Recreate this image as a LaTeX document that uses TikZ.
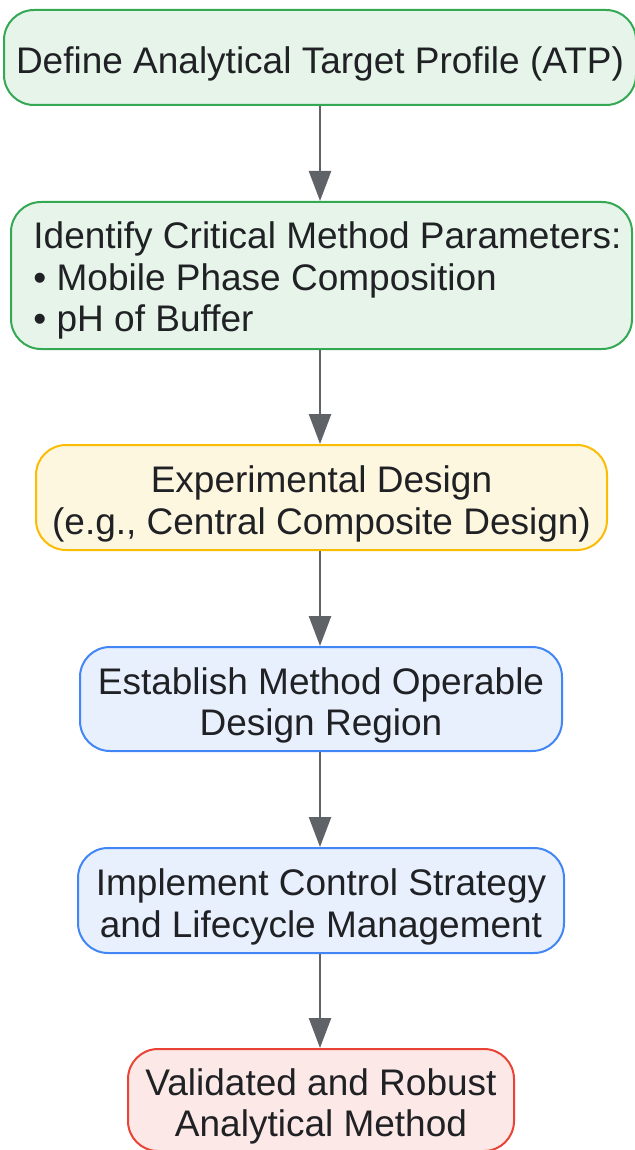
\documentclass[tikz,border=0pt]{standalone}
\usepackage{fontspec}
\setmainfont{Liberation Sans}
\usetikzlibrary{arrows.meta}
\definecolor{txtgray}{HTML}{202124}
\definecolor{arrgray}{HTML}{5F6368}
\definecolor{grnfill}{HTML}{E6F4EA}
\definecolor{grnline}{HTML}{34A853}
\definecolor{yelfill}{HTML}{FEF7E0}
\definecolor{yelline}{HTML}{FBBC04}
\definecolor{blufill}{HTML}{E8F0FE}
\definecolor{bluline}{HTML}{4285F4}
\definecolor{redfill}{HTML}{FCE8E6}
\definecolor{redline}{HTML}{EA4335}
\newcommand{\txtdrop}{\rule{0pt}{40pt}}
\tikzset{
  stepbox/.style={draw, line width=2pt, rounded corners=30pt, inner sep=0pt,
    text=txtgray, align=center, font=\fontsize{37}{41.5}\selectfont},
  flow/.style={draw=arrgray, line width=2.5pt, -{Triangle[length=30pt,width=22pt]}}
}
\begin{document}
\begin{tikzpicture}[x=1pt,y=1pt]
\useasboundingbox (0,0) rectangle (634,-1150);
\node[stepbox, fill=grnfill, draw=grnline, minimum width=632pt, minimum height=95pt] (atp) at (320,-57.5)
  {\txtdrop Define Analytical Target Profile (ATP)};
\node[stepbox, fill=grnfill, draw=grnline, minimum width=621pt, minimum height=147pt, align=left] (cmp) at (321.5,-275.5)
  {\hspace*{12pt}\begin{tabular}{@{}l@{}}\rule{0pt}{42pt}Identify Critical Method Parameters:\\ • Mobile Phase Composition\\ • pH of Buffer\end{tabular}};
\node[stepbox, fill=yelfill, draw=yelline, minimum width=571pt, minimum height=105pt] (doe) at (321.5,-497.5)
  {\txtdrop Experimental Design\\(e.g., Central Composite Design)};
\node[stepbox, fill=blufill, draw=bluline, minimum width=482pt, minimum height=104pt] (modr) at (321,-699)
  {\txtdrop Establish Method Operable\\Design Region};
\node[stepbox, fill=blufill, draw=bluline, minimum width=486pt, minimum height=105pt] (ctrl) at (321,-900.5)
  {\txtdrop Implement Control Strategy\\and Lifecycle Management};
\node[stepbox, fill=redfill, draw=redline, minimum width=386pt, minimum height=102pt] (done) at (321,-1100)
  {\txtdrop Validated and Robust\\Analytical Method};
\draw[flow] (atp.south -| 320,0) -- (cmp.north -| 320,0);
\draw[flow] (cmp.south -| 320,0) -- (doe.north -| 320,0);
\draw[flow] (doe.south -| 320,0) -- (modr.north -| 320,0);
\draw[flow] (modr.south -| 320,0) -- (ctrl.north -| 320,0);
\draw[flow] (ctrl.south -| 320,0) -- (done.north -| 320,0);
\end{tikzpicture}
\end{document}
